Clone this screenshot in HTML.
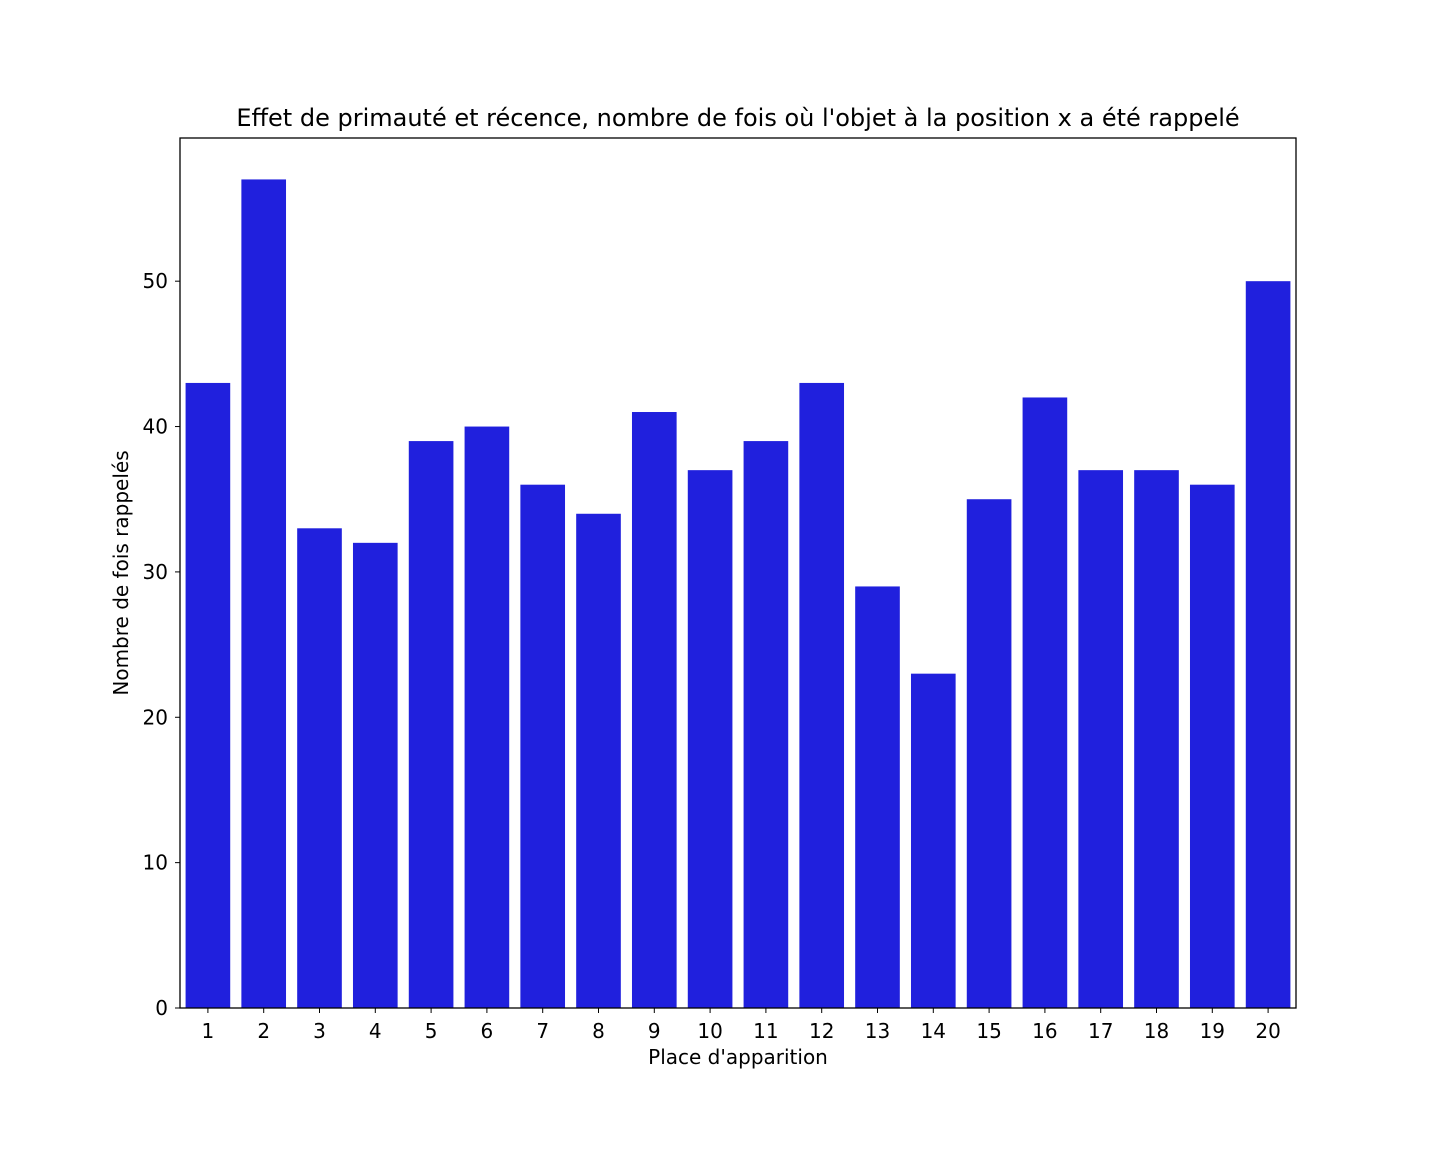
<!DOCTYPE html>
<html><head><meta charset="utf-8"><style>
html,body{margin:0;padding:0;background:#fff;}
svg{display:block;font-family:"DejaVu Sans","Liberation Sans",sans-serif;}
</style></head><body>
<svg id="chart" width="1440" height="1152" viewBox="0 0 1440 1152" xmlns="http://www.w3.org/2000/svg">
<rect width="1440" height="1152" fill="#fff"/>
<text x="738" y="126" font-size="24" text-anchor="middle">Effet de primauté et récence, nombre de fois où l'objet à la position x a été rappelé</text>
<g id="bars"></g>
<g id="xticks"></g>
<g id="yticks"></g>
<rect x="180" y="138" width="1116" height="870" fill="none" stroke="#000" stroke-width="1.3"/>
<text x="738" y="1064" font-size="20" text-anchor="middle">Place d'apparition</text>
<text transform="translate(128,573) rotate(-90)" font-size="20" text-anchor="middle">Nombre de fois rappelés</text>
</svg>
<script>
const categories = ["1","2","3","4","5","6","7","8","9","10","11","12","13","14","15","16","17","18","19","20"];
const values = [43,57,33,32,39,40,36,34,41,37,39,43,29,23,35,42,37,37,36,50];
const yTicks = [0,10,20,30,40,50];

const NS = "http://www.w3.org/2000/svg";
const L = 180, R = 1296, T = 138, B = 1008;
const yMax = Math.max(...values) * 1.05;
const xScale = i => L + (i + 0.5) * (R - L) / categories.length;
const yScale = v => B - v * (B - T) / yMax;
const bw = 0.8 * (R - L) / categories.length;

const bars = document.getElementById('bars');
values.forEach((v, i) => {
  const r = document.createElementNS(NS, 'rect');
  r.setAttribute('x', xScale(i) - bw / 2);
  r.setAttribute('y', yScale(v));
  r.setAttribute('width', bw);
  r.setAttribute('height', B - yScale(v));
  r.setAttribute('fill', '#2020dd');
  
  
  bars.appendChild(r);
});

const xg = document.getElementById('xticks');
categories.forEach((c, i) => {
  const x = xScale(i);
  const l = document.createElementNS(NS, 'line');
  l.setAttribute('x1', x); l.setAttribute('x2', x);
  l.setAttribute('y1', B); l.setAttribute('y2', B + 5);
  l.setAttribute('stroke', '#000');
  
  
  xg.appendChild(l);
  const t = document.createElementNS(NS, 'text');
  t.setAttribute('x', x); t.setAttribute('y', B + 30);
  t.setAttribute('font-size', '20');
  t.setAttribute('text-anchor', 'middle');
  t.textContent = c;
  
  
  xg.appendChild(t);
});

const yg = document.getElementById('yticks');
yTicks.forEach(v => {
  const y = yScale(v);
  const l = document.createElementNS(NS, 'line');
  l.setAttribute('x1', L - 5); l.setAttribute('x2', L);
  l.setAttribute('y1', y); l.setAttribute('y2', y);
  l.setAttribute('stroke', '#000');
  
  
  yg.appendChild(l);
  const t = document.createElementNS(NS, 'text');
  t.setAttribute('x', L - 12); t.setAttribute('y', y + 7);
  t.setAttribute('font-size', '20');
  t.setAttribute('text-anchor', 'end');
  t.textContent = v;
  
  
  yg.appendChild(t);
});
</script>
</body></html>
